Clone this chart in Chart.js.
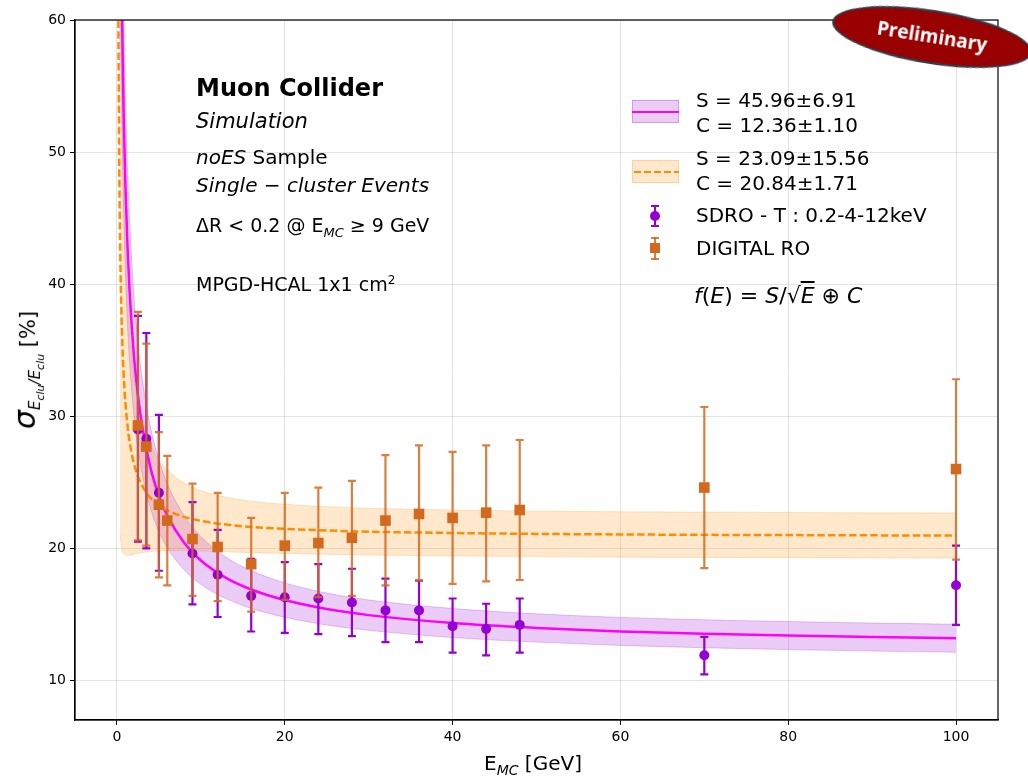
<!DOCTYPE html>
<html lang="en">
<head>
  <meta charset="UTF-8">
  <title>Muon Collider - MPGD-HCAL resolution</title>
  <script src="https://cdn.jsdelivr.net/npm/chart.js"></script>
  <style>
    body { margin: 0; background: white; overflow: hidden; font-family: 'DejaVu Sans', sans-serif; color: black; }
    #wrap { position: relative; width: 1028px; height: 777px; }
    .txt { position: absolute; white-space: nowrap; line-height: 1; }
    .it { font-style: italic; }
    .sw { position: absolute; width: 47px; height: 23px; box-sizing: border-box; }
    .prelim { position: absolute; left: 831px; top: 10px; width: 202px; height: 54px; border-radius: 50%;
      background: #990000; border: 2px solid #2f3f4f; transform: rotate(9deg); box-sizing: border-box;
      color: white; font: bold 19px 'Open Sans', sans-serif; text-align: center; line-height: 48px; }
  </style>
</head>
<body>
<div id="wrap">
  <canvas id="grafica" width="1028" height="777"></canvas>

  <div class="txt" style="left:196px;top:76px;font-size:24px;font-weight:bold">Muon Collider</div>
  <div class="txt it" style="left:196px;top:111px;font-size:21px">Simulation</div>
  <div class="txt" style="left:196px;top:147px;font-size:20px"><i>noES</i> Sample</div>
  <div class="txt it" style="left:196px;top:175px;font-size:20px">Single − cluster Events</div>
  <div class="txt" style="left:196px;top:216px;font-size:19px">ΔR &lt; 0.2 @ E<sub class="it" style="font-size:13px">MC</sub> ≥ 9 GeV</div>
  <div class="txt" style="left:196px;top:274px;font-size:19px">MPGD-HCAL 1x1 cm<sup style="font-size:12px">2</sup></div>

  <div class="sw" style="left:632px;top:100px;background:rgba(148,0,211,0.2);border:1px solid rgba(148,0,211,0.25)"></div>
  <div style="position:absolute;left:632px;top:111px;width:47px;height:2px;background:#ff00ff"></div>
  <div class="sw" style="left:632px;top:160px;background:rgba(255,140,0,0.2);border:1px solid rgba(255,140,0,0.25)"></div>
  <div style="position:absolute;left:634px;top:171px;width:45px;height:2px;background:repeating-linear-gradient(90deg,#ff8c00 0 7px,transparent 7px 10px)"></div>

  <div style="position:absolute;left:654px;top:205px;width:2px;height:22px;background:#9400d3"></div>
  <div style="position:absolute;left:651px;top:205px;width:8px;height:2px;background:#9400d3"></div>
  <div style="position:absolute;left:651px;top:225px;width:8px;height:2px;background:#9400d3"></div>
  <div style="position:absolute;left:650px;top:211px;width:10px;height:10px;border-radius:50%;background:#9400d3"></div>

  <div style="position:absolute;left:654px;top:237px;width:2px;height:23px;background:rgba(210,105,30,0.85)"></div>
  <div style="position:absolute;left:651px;top:237px;width:8px;height:2px;background:rgba(210,105,30,0.85)"></div>
  <div style="position:absolute;left:651px;top:258px;width:8px;height:2px;background:rgba(210,105,30,0.85)"></div>
  <div style="position:absolute;left:650px;top:243px;width:10px;height:10px;background:#d2691e"></div>

  <div class="txt" style="left:696px;top:88px;font-size:20px;line-height:25px">S = 45.96±6.91<br>C = 12.36±1.10</div>
  <div class="txt" style="left:696px;top:146px;font-size:20px;line-height:25px">S = 23.09±15.56<br>C = 20.84±1.71</div>
  <div class="txt" style="left:696px;top:205px;font-size:20px">SDRO - T : 0.2-4-12keV</div>
  <div class="txt" style="left:696px;top:238px;font-size:20px">DIGITAL RO</div>
  <div class="txt" style="left:694px;top:285px;font-size:22px"><i>f</i>(<i>E</i>) = <i>S</i>/√<span style="text-decoration:overline"><i>E</i></span> ⊕ <i>C</i></div>

  <div class="txt" style="left:484px;top:753px;font-size:20px">E<sub class="it" style="font-size:14px">MC</sub> [GeV]</div>
  <div class="txt" style="left:28px;top:370px;transform:translate(-50%,-50%) rotate(-90deg);font-size:21px">
    <span style="font-size:30px;font-style:italic">σ</span><sub class="it" style="font-size:15px">E<sub style="font-size:11px">clu</sub>/E<sub style="font-size:11px">clu</sub></sub> [%]</div>

  <div class="prelim">Preliminary</div>
</div>

<script>
const xTicks = [0, 20, 40, 60, 80, 100];
const yTicks = [10, 20, 30, 40, 50, 60];

// SDRO - T : 0.2-4-12keV
const xSdro  = [2.5, 3.5, 5, 9, 12, 16, 20, 24, 28, 32, 36, 40, 44, 48, 70, 100];
const ySdro  = [29.0, 28.3, 24.2, 19.6, 18.0, 16.4, 16.3, 16.2, 15.9, 15.3, 15.3, 14.1, 13.9, 14.2, 11.9, 17.2];
const hiSdro = [37.6, 36.3, 30.1, 23.5, 21.4, 19.2, 18.95, 18.8, 18.45, 17.7, 17.55, 16.2, 15.8, 16.2, 13.3, 20.2];
const loSdro = [20.5, 20.0, 18.3, 15.75, 14.8, 13.7, 13.6, 13.5, 13.35, 12.9, 12.9, 12.1, 11.9, 12.1, 10.45, 14.2];

// DIGITAL RO
const xDig  = [2.5, 3.5, 5, 6, 9, 12, 16, 20, 24, 28, 32, 36, 40, 44, 48, 70, 100];
const yDig  = [29.3, 27.7, 23.3, 22.1, 20.7, 20.1, 18.8, 20.2, 20.4, 20.8, 22.1, 22.6, 22.3, 22.7, 22.9, 24.6, 26.0];
const hiDig = [37.9, 35.5, 28.8, 27.0, 24.9, 24.2, 22.3, 24.2, 24.6, 25.1, 27.05, 27.8, 27.3, 27.8, 28.2, 30.7, 32.8];
const loDig = [20.6, 20.2, 17.8, 17.2, 16.4, 16.0, 15.2, 16.1, 16.3, 16.4, 17.2, 17.55, 17.3, 17.5, 17.6, 18.5, 19.15];

// fit curves
const fitE = [0.15, 0.25, 0.4, 0.6, 0.8, 1, 1.25, 1.5, 2, 2.5, 3, 4, 5, 6, 8, 10, 13, 16, 20, 25, 30, 40, 50, 60, 70, 80, 90, 100];
const fitSdro = [119.3, 92.75, 73.71, 60.61, 52.85, 47.59, 42.93, 39.51, 34.77, 31.59, 29.27, 26.09, 23.98, 22.47, 20.42, 19.08, 17.76, 16.88, 16.08, 15.40, 14.94, 14.34, 13.97, 13.71, 13.53, 13.39, 13.28, 13.19];
const fitDig = [63.16, 50.66, 42.04, 36.37, 33.18, 31.10, 29.34, 28.10, 26.47, 25.45, 24.74, 23.82, 23.26, 22.87, 22.38, 22.08, 21.80, 21.62, 21.47, 21.35, 21.26, 21.16, 21.09, 21.05, 21.02, 21.0, 20.98, 20.97];

// uncertainty bands
const bandE = [0.35, 0.6, 0.8, 1, 1.25, 1.5, 2, 2.5, 3, 4, 5, 6, 8, 10, 13, 16, 20, 25, 30, 40, 50, 60, 70, 80, 90, 100];
const bandSdroLo = [67.1, 51.87, 45.33, 40.91, 37.0, 34.14, 30.19, 27.55, 25.62, 23.0, 21.27, 20.04, 18.37, 17.27, 16.19, 15.45, 14.78, 14.19, 13.79, 13.24, 12.9, 12.65, 12.47, 12.33, 12.22, 12.13];
const bandSdroHi = [90.2, 69.35, 60.37, 54.27, 48.86, 44.88, 39.35, 35.63, 32.92, 29.18, 26.69, 24.9, 22.47, 20.89, 19.33, 18.31, 17.38, 16.61, 16.09, 15.44, 15.04, 14.77, 14.59, 14.45, 14.34, 14.25];
const bandDigLo = [21.0, 19.88, 19.6, 19.49, 19.47, 19.48, 19.55, 19.63, 19.69, 19.76, 19.81, 19.82, 19.82, 19.79, 19.73, 19.67, 19.61, 19.55, 19.49, 19.42, 19.37, 19.33, 19.31, 19.29, 19.27, 19.26];
const bandDigHi = [67.5, 52.86, 46.76, 42.71, 39.21, 36.72, 33.39, 31.27, 29.79, 27.88, 26.71, 25.92, 24.94, 24.37, 23.87, 23.57, 23.33, 23.15, 23.03, 22.9, 22.81, 22.77, 22.73, 22.71, 22.69, 22.68];

const pts = (xs, ys) => xs.map((x, i) => ({ x, y: ys[i] }));

const errorBars = {
  id: 'errorBars',
  beforeDatasetDraw(chart, args) {
    const ds = chart.data.datasets[args.index];
    if (!ds.errHi) return;
    const ctx = chart.ctx, xs = chart.scales.x, ys = chart.scales.y, a = chart.chartArea;
    ctx.save();
    ctx.beginPath(); ctx.rect(a.left, a.top, a.right - a.left, a.bottom - a.top); ctx.clip();
    ctx.strokeStyle = ds.errColor; ctx.lineWidth = 2.2;
    ds.data.forEach((p, i) => {
      const x = xs.getPixelForValue(p.x);
      const y1 = ys.getPixelForValue(ds.errHi[i]), y2 = ys.getPixelForValue(ds.errLo[i]);
      ctx.beginPath();
      ctx.moveTo(x, y1); ctx.lineTo(x, y2);
      ctx.moveTo(x - 4, y1); ctx.lineTo(x + 4, y1);
      ctx.moveTo(x - 4, y2); ctx.lineTo(x + 4, y2);
      ctx.stroke();
    });
    ctx.restore();
  }
};

const frame = {
  id: 'frame',
  afterDraw(chart) {
    const a = chart.chartArea, ctx = chart.ctx;
    ctx.save();
    ctx.strokeStyle = '#000'; ctx.lineWidth = 1.2;
    ctx.strokeRect(a.left, a.top, a.right - a.left, a.bottom - a.top);
    ctx.restore();
  }
};

const lineDs = (data, color, extra) => Object.assign({
  data, showLine: true, pointRadius: 0, borderColor: color, borderWidth: 2.5,
  cubicInterpolationMode: 'monotone', fill: false
}, extra);

new Chart(document.getElementById('grafica'), {
  type: 'scatter',
  data: {
    datasets: [
      { label: 'DIGITAL RO', data: pts(xDig, yDig), errHi: hiDig, errLo: loDig, errColor: 'rgba(210,105,30,0.85)',
        pointStyle: 'rect', pointRadius: 7.5, backgroundColor: '#d2691e', borderWidth: 0 },
      { label: 'SDRO - T : 0.2-4-12keV', data: pts(xSdro, ySdro), errHi: hiSdro, errLo: loSdro, errColor: '#9400d3',
        pointStyle: 'circle', pointRadius: 5, backgroundColor: '#9400d3', borderWidth: 0 },
      lineDs(pts(fitE, fitDig), '#ff8c00', { borderDash: [7.4, 3.2] }),
      lineDs(pts(fitE, fitSdro), '#ff00ff', {}),
      lineDs(pts(bandE, bandDigHi), 'rgba(255,140,0,0.22)', { borderWidth: 1, fill: '+1', backgroundColor: 'rgba(255,140,0,0.2)' }),
      lineDs(pts(bandE, bandDigLo), 'rgba(255,140,0,0.22)', { borderWidth: 1 }),
      lineDs(pts(bandE, bandSdroHi), 'rgba(148,0,211,0.22)', { borderWidth: 1, fill: '+1', backgroundColor: 'rgba(148,0,211,0.2)' }),
      lineDs(pts(bandE, bandSdroLo), 'rgba(148,0,211,0.22)', { borderWidth: 1 })
    ]
  },
  options: {
    responsive: false,
    animation: false,
    devicePixelRatio: 1,
    layout: { padding: { top: 20, right: 30, left: 0, bottom: 0 } },
    plugins: { legend: { display: false }, tooltip: { enabled: false } },
    scales: {
      x: {
        type: 'linear', min: -5, max: 105,
        afterBuildTicks: s => { s.ticks = xTicks.map(v => ({ value: v })); },
        afterFit: s => { s.height = 57; },
        grid: { color: 'rgba(0,0,0,0.11)', tickColor: '#000', tickLength: 5 },
        border: { color: '#000', width: 1.2 },
        ticks: { color: '#000', padding: 4, font: { family: 'DejaVu Sans', size: 14 } }
      },
      y: {
        type: 'linear', min: 7, max: 60,
        afterBuildTicks: s => { s.ticks = yTicks.map(v => ({ value: v })); },
        afterFit: s => { s.width = 75; },
        grid: { color: 'rgba(0,0,0,0.11)', tickColor: '#000', tickLength: 5 },
        border: { color: '#000', width: 1.2 },
        ticks: { color: '#000', padding: 4, font: { family: 'DejaVu Sans', size: 14 } }
      }
    }
  },
  plugins: [errorBars, frame]
});
</script>
</body>
</html>
